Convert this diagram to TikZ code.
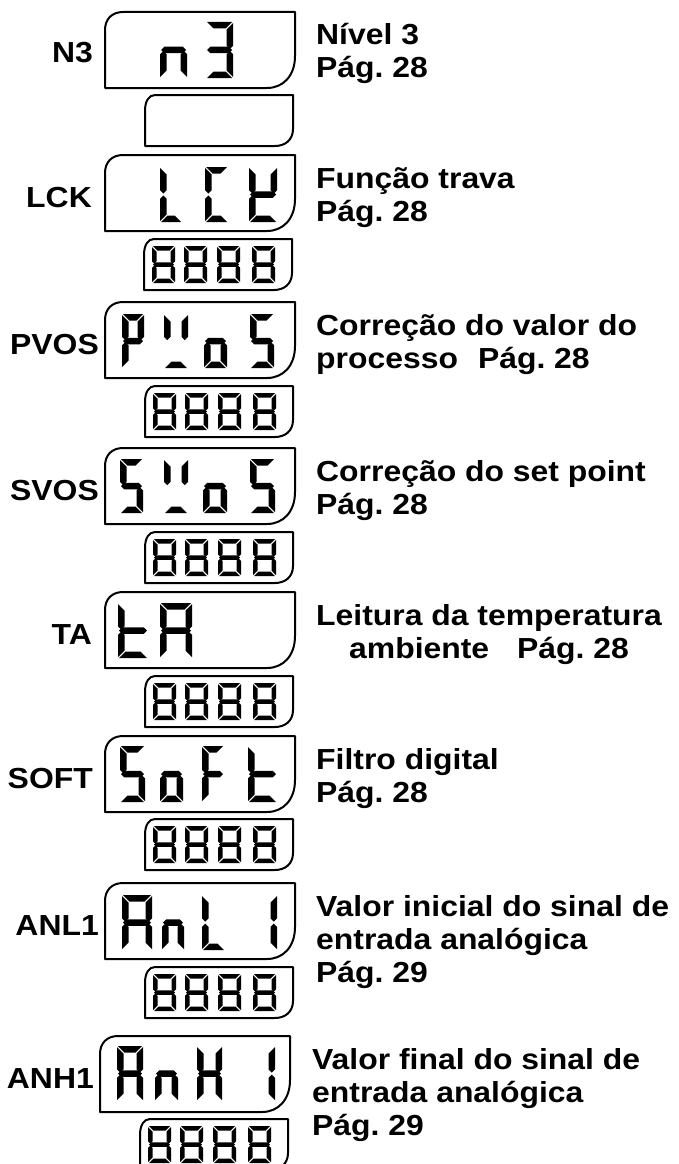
\documentclass[tikz,border=0pt]{standalone}
\usepackage{fontspec}
\newfontfamily\lblfont[FakeStretch=1.1]{Liberation Sans}
\usepackage{tikz}
\frenchspacing

% one seven-segment cell: x, y (top left), width, height, thickness, segments
\newcommand{\segdigit}[6]{%
  \def\sgx{#1}\def\sgy{#2}\def\sgw{#3}\def\sgh{#4}\def\sgt{#5}%
  \foreach \s in {#6}{\csname seg\s\endcsname}}
\newcommand{\sega}{\fill ({\sgx+1},{\sgy}) -- ({\sgx+\sgw-1},{\sgy}) -- ({\sgx+\sgw-1-\sgt},{\sgy+\sgt}) -- ({\sgx+1+\sgt},{\sgy+\sgt}) -- cycle;}
\newcommand{\segd}{\fill ({\sgx+1},{\sgy+\sgh}) -- ({\sgx+\sgw-1},{\sgy+\sgh}) -- ({\sgx+\sgw-1-\sgt},{\sgy+\sgh-\sgt}) -- ({\sgx+1+\sgt},{\sgy+\sgh-\sgt}) -- cycle;}
\newcommand{\segg}{\fill ({\sgx+1},{\sgy+\sgh/2}) -- ({\sgx+1+\sgt/2},{\sgy+\sgh/2-\sgt/2}) -- ({\sgx+\sgw-1-\sgt/2},{\sgy+\sgh/2-\sgt/2}) -- ({\sgx+\sgw-1},{\sgy+\sgh/2}) -- ({\sgx+\sgw-1-\sgt/2},{\sgy+\sgh/2+\sgt/2}) -- ({\sgx+1+\sgt/2},{\sgy+\sgh/2+\sgt/2}) -- cycle;}
\newcommand{\segf}{\fill ({\sgx},{\sgy+1}) -- ({\sgx+\sgt},{\sgy+1+\sgt}) -- ({\sgx+\sgt},{\sgy+\sgh/2-1-\sgt/2}) -- ({\sgx+\sgt/2},{\sgy+\sgh/2-1}) -- ({\sgx},{\sgy+\sgh/2-1-\sgt/2}) -- cycle;}
\newcommand{\segb}{\fill ({\sgx+\sgw},{\sgy+1}) -- ({\sgx+\sgw-\sgt},{\sgy+1+\sgt}) -- ({\sgx+\sgw-\sgt},{\sgy+\sgh/2-1-\sgt/2}) -- ({\sgx+\sgw-\sgt/2},{\sgy+\sgh/2-1}) -- ({\sgx+\sgw},{\sgy+\sgh/2-1-\sgt/2}) -- cycle;}
\newcommand{\sege}{\fill ({\sgx},{\sgy+\sgh-1}) -- ({\sgx+\sgt},{\sgy+\sgh-1-\sgt}) -- ({\sgx+\sgt},{\sgy+\sgh/2+1+\sgt/2}) -- ({\sgx+\sgt/2},{\sgy+\sgh/2+1}) -- ({\sgx},{\sgy+\sgh/2+1+\sgt/2}) -- cycle;}
\newcommand{\segc}{\fill ({\sgx+\sgw},{\sgy+\sgh-1}) -- ({\sgx+\sgw-\sgt},{\sgy+\sgh-1-\sgt}) -- ({\sgx+\sgw-\sgt},{\sgy+\sgh/2+1+\sgt/2}) -- ({\sgx+\sgw-\sgt/2},{\sgy+\sgh/2+1}) -- ({\sgx+\sgw},{\sgy+\sgh/2+1+\sgt/2}) -- cycle;}

% display frames, top left corner given
\newcommand{\mainframe}[2]{%
  \draw[lcdframe] ({#1},{#2+76}) -- ({#1},{#2+18}) .. controls ({#1},{#2+7}) and ({#1+7},{#2}) .. ({#1+18},{#2}) -- ({#1+190},{#2}) -- ({#1+190},{#2+44}) .. controls ({#1+190},{#2+64}) and ({#1+178},{#2+76}) .. ({#1+162},{#2+76}) -- cycle;}
\newcommand{\smallframe}[2]{%
  \draw[lcdframe] ({#1},{#2+51}) -- ({#1},{#2+16}) .. controls ({#1},{#2+6}) and ({#1+4},{#2}) .. ({#1+10},{#2}) -- ({#1+148},{#2}) -- ({#1+148},{#2+34}) .. controls ({#1+148},{#2+45}) and ({#1+140},{#2+51}) .. ({#1+130},{#2+51}) -- cycle;}

% text lines, first line on the node's baseline
\newcommand{\desclines}[2]{\begin{tabular}[t]{@{}#1@{}}#2\end{tabular}}

\begin{document}
\begin{tikzpicture}[x=1pt, y=-1pt,
    lcdframe/.style={line width=2pt, line join=round},
    parname/.style={anchor=base east, inner sep=0pt, font=\lblfont\bfseries\fontsize{29}{33}\selectfont},
    desc/.style={anchor=base west, inner sep=0pt, font=\lblfont\bfseries\fontsize{29}{33}\selectfont}
]
\useasboundingbox (0,0) rectangle (678,1164);

% main displays
\mainframe{105}{12}
\segdigit{160}{22}{27}{56}{6.5}{c,e,g}
\segdigit{206}{22}{27}{56}{6.5}{a,b,c,d,g}
\smallframe{145}{95}

\mainframe{105}{155}
\segdigit{160}{167}{22}{55}{6.5}{d,e,f}
\segdigit{205}{167}{23}{55}{6.5}{a,d,e,f}
\segdigit{249}{167}{28}{55}{6.5}{b,d,e,f,g}

\mainframe{105}{302}
\segdigit{122}{314}{22}{54}{6.5}{a,b,e,f,g}
\segdigit{164}{314}{24}{54}{6.5}{b,d,f}
\segdigit{204}{314}{23}{54}{6.5}{c,d,e,g}
\segdigit{250}{314}{24}{54}{6.5}{a,c,d,f,g}

\mainframe{105}{448}
\segdigit{120}{459}{23}{54}{6.5}{a,c,d,f,g}
\segdigit{164}{459}{24}{54}{6.5}{b,d,f}
\segdigit{203}{459}{24}{54}{6.5}{c,d,e,g}
\segdigit{250}{459}{25}{54}{6.5}{a,c,d,f,g}

\mainframe{105}{592}
\segdigit{118}{603}{30}{55}{6.5}{d,e,f,g}
\segdigit{160}{603}{32}{55}{6.5}{a,b,c,e,f,g}

\mainframe{105}{736}
\segdigit{120}{746}{25}{56}{6.5}{a,c,d,f,g}
\segdigit{160}{746}{23}{56}{6.5}{c,d,e,g}
\segdigit{202}{746}{22}{56}{6.5}{a,e,f,g}
\segdigit{248}{746}{29}{56}{6.5}{d,e,f,g}

\mainframe{105}{883}
\segdigit{122}{895}{30}{55}{6.5}{a,b,c,e,f,g}
\segdigit{162}{895}{22}{55}{6.5}{c,e,g}
\segdigit{202}{895}{23}{55}{6.5}{d,e,f}
\segdigit{250}{895}{27}{55}{6.5}{b,c}

\mainframe{100}{1036}
\segdigit{117}{1046}{26}{55}{6.5}{a,b,c,e,f,g}
\segdigit{155}{1046}{23}{55}{6.5}{c,e,g}
\segdigit{197}{1046}{25}{55}{6.5}{b,c,e,f,g}
\segdigit{248}{1046}{27}{55}{6.5}{b,c}

% value displays
\foreach \xo/\yo in {144/239, 145/386, 145/532, 145/676, 145/819, 145/967, 140/1119} {
  \smallframe{\xo}{\yo}
  \foreach \k in {8,40,73,108} {\segdigit{\xo+\k}{\yo+7}{23}{37}{4.5}{a,b,c,d,e,f,g}}
}

% parameter names
\node[parname] (nN3) at (93,63) {N3};
\node[parname] (nLCK) at (92,207) {LCK};
\node[parname] (nPVOS) at (99,354) {PVOS};
\node[parname] (nSVOS) at (99,500) {SVOS};
\node[parname] (nTA) at (92,644) {TA};
\node[parname] (nSOFT) at (93,788) {SOFT};
\node[parname] (nANL1) at (99,935) {ANL1};
\node[parname] (nANH1) at (94,1088) {ANH1};

% descriptions
\node[desc] (dN3) at (316,45) {\desclines{l}{Nível 3\\Pág. 28}};
\node[desc] (dLCK) at (316,188) {\desclines{l}{Função trava\\Pág. 28}};
\node[desc] (dPVOS) at (316,335) {\desclines{l}{Correção do valor do\\processo\hspace{20pt}Pág. 28}};
\node[desc] (dSVOS) at (316,481) {\desclines{l}{Correção do set point\\Pág. 28}};
\node[desc] (dTA) at (316,625) {\desclines{c}{Leitura da temperatura\\ambiente\hspace{28pt}Pág. 28}};
\node[desc] (dSOFT) at (316,769) {\desclines{l}{Filtro digital\\Pág. 28}};
\node[desc] (dANL1) at (316,916) {\desclines{l}{Valor inicial do sinal de\\entrada analógica\\Pág. 29}};
\node[desc] (dANH1) at (312,1069) {\desclines{l}{Valor final do sinal de\\entrada analógica\\Pág. 29}};
\end{tikzpicture}
\end{document}
